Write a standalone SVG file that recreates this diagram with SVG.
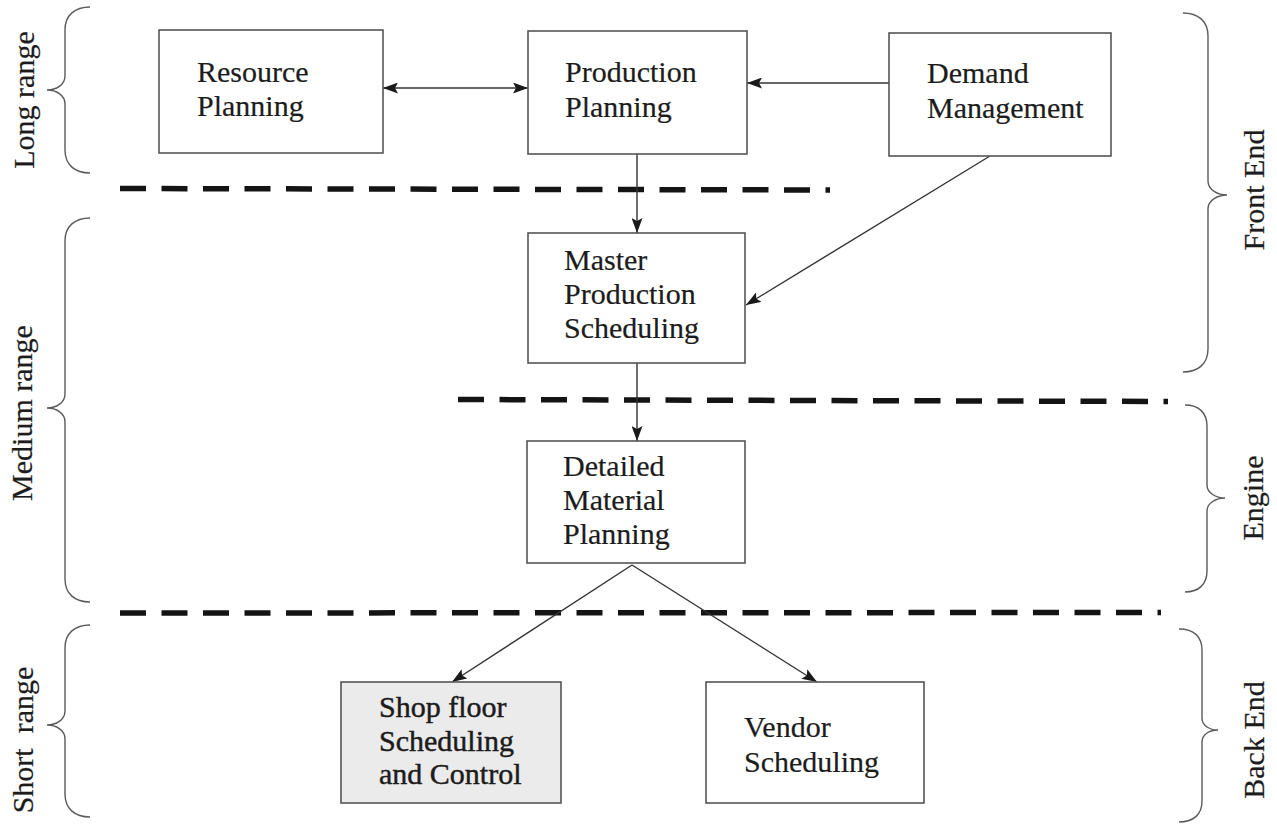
<svg xmlns="http://www.w3.org/2000/svg" width="1277" height="827" viewBox="0 0 1277 827">
  <defs>
    <marker id="arrow" viewBox="0 0 15 11" refX="15" refY="5.5" markerWidth="15" markerHeight="11" markerUnits="userSpaceOnUse" orient="auto-start-reverse">
      <path d="M0,0 L15,5.5 L0,11 L3,5.5 Z" fill="#1a1a1a"/>
    </marker>
    <style>
      text { font-family: "Liberation Serif", "Times New Roman", serif; font-size: 30px; fill: #1c1c1c; stroke: #1c1c1c; stroke-width: 0.2; }
      .box { fill: #ffffff; stroke: #555555; stroke-width: 1.6; }
      .shaded { fill: #ebebeb; }
      .heavy { stroke-width: 0.45; }
      .conn { stroke: #333333; stroke-width: 1.4; fill: none; }
      .divider { stroke: #141414; stroke-width: 5.5; stroke-dasharray: 26 15.5; fill: none; }
      .brace { stroke: #5a5a5a; stroke-width: 1.4; fill: none; }
    </style>
  </defs>

  <rect width="1277" height="827" fill="#ffffff"/>

  <!-- horizon dividers -->
  <g id="dividers">
    <line class="divider" x1="120" y1="188.5" x2="830" y2="190"/>
    <line class="divider" x1="458" y1="399.5" x2="1168" y2="401.5"/>
    <line class="divider" x1="120" y1="613" x2="1161" y2="612.5"/>
  </g>

  <!-- left braces: planning horizon -->
  <g id="horizon-long">
    <path class="brace" d="M90,7 C75,7 65,15 65,30 L65,76 C65,85 56,90 47,90 C56,90 65,95 65,104 L65,150 C65,165 75,173 90,173"/>
    <text transform="translate(34,100) rotate(-90)" text-anchor="middle">Long range</text>
  </g>
  <g id="horizon-medium">
    <path class="brace" d="M90,218 C75,218 65,226 65,241 L65,394 C65,403 56,408 47,408 C56,408 65,413 65,422 L65,579 C65,594 75,602 90,602"/>
    <text transform="translate(32,413) rotate(-90)" text-anchor="middle">Medium range</text>
  </g>
  <g id="horizon-short">
    <path class="brace" d="M90,625 C75,625 65,633 65,648 L65,711 C65,720 56,725 47,725 C56,725 65,730 65,739 L65,794 C65,809 75,817 90,817"/>
    <text transform="translate(33,740) rotate(-90)" text-anchor="middle" xml:space="preserve">Short  range</text>
  </g>

  <!-- right braces: system stage -->
  <g id="stage-front">
    <path class="brace" d="M1183,13 C1198,13 1208,21 1208,36 L1208,181 C1208,190 1218,195 1227,195 C1218,195 1208,200 1208,209 L1208,349 C1208,364 1198,372 1183,372"/>
    <text transform="translate(1264,190) rotate(-90)" text-anchor="middle">Front End</text>
  </g>
  <g id="stage-engine">
    <path class="brace" d="M1185,405 C1199,405 1207,413 1207,426 L1207,485 C1207,493 1216,498 1225,498 C1216,498 1207,503 1207,511 L1207,571 C1207,584 1199,592 1185,592"/>
    <text transform="translate(1263,498) rotate(-90)" text-anchor="middle">Engine</text>
  </g>
  <g id="stage-back">
    <path class="brace" d="M1179,629 C1194,629 1202,637 1202,650 L1202,718 C1202,726 1210,730 1218,730 C1210,730 1202,734 1202,742 L1202,801 C1202,814 1194,822 1179,822"/>
    <text transform="translate(1264,740) rotate(-90)" text-anchor="middle">Back End</text>
  </g>

  <!-- connectors -->
  <g id="connectors">
    <line class="conn" x1="383" y1="88" x2="528" y2="88" marker-start="url(#arrow)" marker-end="url(#arrow)"/>
    <line class="conn" x1="889" y1="83" x2="747" y2="83" marker-end="url(#arrow)"/>
    <line class="conn" x1="637" y1="154" x2="637" y2="233" marker-end="url(#arrow)"/>
    <line class="conn" x1="990" y1="156" x2="746" y2="305" marker-end="url(#arrow)"/>
    <line class="conn" x1="637" y1="363" x2="637" y2="441" marker-end="url(#arrow)"/>
    <line class="conn" x1="632" y1="565" x2="452" y2="682" marker-end="url(#arrow)"/>
    <line class="conn" x1="632" y1="565" x2="817" y2="682" marker-end="url(#arrow)"/>
  </g>

  <!-- planning functions -->
  <g id="resource-planning">
    <rect class="box" x="159" y="30" width="224" height="123"/>
    <text x="197" y="82">Resource</text>
    <text x="197" y="116">Planning</text>
  </g>
  <g id="production-planning">
    <rect class="box" x="528" y="31" width="219" height="123"/>
    <text x="565" y="82">Production</text>
    <text x="565" y="117">Planning</text>
  </g>
  <g id="demand-management">
    <rect class="box" x="889" y="33" width="222" height="123"/>
    <text x="927" y="83">Demand</text>
    <text x="927" y="118">Management</text>
  </g>
  <g id="master-production-scheduling">
    <rect class="box" x="528" y="233" width="217" height="130"/>
    <text x="564" y="270">Master</text>
    <text x="564" y="304">Production</text>
    <text x="564" y="338">Scheduling</text>
  </g>
  <g id="detailed-material-planning">
    <rect class="box" x="527" y="441" width="218" height="122"/>
    <text x="563" y="476">Detailed</text>
    <text x="563" y="510">Material</text>
    <text x="563" y="544">Planning</text>
  </g>
  <g id="shop-floor-control">
    <rect class="box shaded" x="341" y="682" width="220" height="121"/>
    <text class="heavy" x="379" y="717">Shop floor</text>
    <text class="heavy" x="379" y="751">Scheduling</text>
    <text class="heavy" x="379" y="784">and Control</text>
  </g>
  <g id="vendor-scheduling">
    <rect class="box" x="706" y="682" width="218" height="121"/>
    <text x="744" y="737">Vendor</text>
    <text x="744" y="772">Scheduling</text>
  </g>
</svg>
